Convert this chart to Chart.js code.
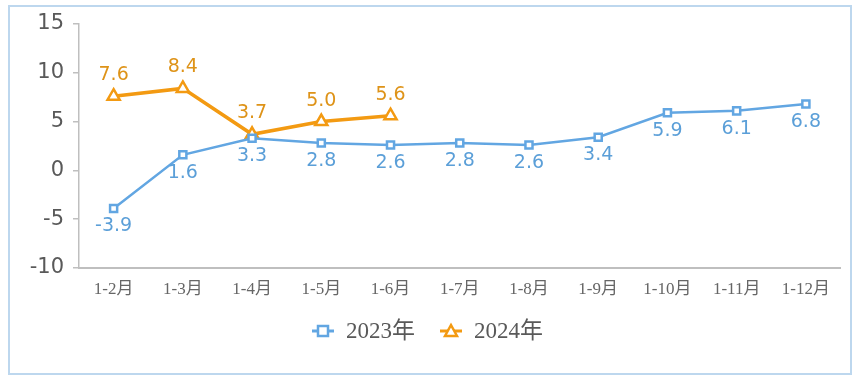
<!DOCTYPE html>
<html>
<head>
<meta charset="utf-8">
<title>2023-2024 累计增速</title>
<script src="https://cdn.jsdelivr.net/npm/chart.js@4.4.1/dist/chart.umd.min.js"></script>
<style>
  body { margin: 0; background: #fff; }
  .frame { position: absolute; left: 8px; top: 5px; width: 840px; height: 366px; border: 2px solid #BDD7EE; }
  canvas { display: block; }
</style>
</head>
<body>
<div class="frame">
  <canvas id="chart" width="840" height="366"></canvas>
</div>
<script>
  const months = ["1-2月", "1-3月", "1-4月", "1-5月", "1-6月", "1-7月", "1-8月", "1-9月", "1-10月", "1-11月", "1-12月"];
  const values2023 = [-3.9, 1.6, 3.3, 2.8, 2.6, 2.8, 2.6, 3.4, 5.9, 6.1, 6.8];
  const values2024 = [7.6, 8.4, 3.7, 5.0, 5.6, null, null, null, null, null, null];
  const yTicks = [-10, -5, 0, 5, 10, 15];

  const blue = "#62A6E2";
  const orange = "#F39A12";
  const blueText = "#5B9FD8";
  const orangeText = "#DE9318";

  // value labels above / below the points
  const valueLabels = {
    id: "valueLabels",
    afterDatasetsDraw(chart) {
      const ctx = chart.ctx;
      ctx.save();
      ctx.font = "19px 'DejaVu Sans'";
      ctx.textAlign = "center";
      ctx.textBaseline = "middle";
      chart.data.datasets.forEach((ds, i) => {
        const meta = chart.getDatasetMeta(i);
        meta.data.forEach((pt, j) => {
          const v = ds.data[j];
          if (v === null) return;
          ctx.fillStyle = ds.labelColor;
          ctx.fillText(v.toFixed(1), pt.x, pt.y + ds.labelOffset);
        });
      });
      ctx.restore();
    }
  };

  // legend: short line with marker, then the series name
  const legendDraw = {
    id: "legendDraw",
    afterDraw(chart) {
      const ctx = chart.ctx;
      const y = 324;
      const items = [
        { x: 313, text: "2023年", color: blue, style: "rect" },
        { x: 441, text: "2024年", color: orange, style: "triangle" }
      ];
      ctx.save();
      items.forEach(it => {
        ctx.strokeStyle = it.color;
        ctx.lineWidth = 3;
        ctx.beginPath();
        ctx.moveTo(it.x - 11, y);
        ctx.lineTo(it.x + 11, y);
        ctx.stroke();
        ctx.fillStyle = "#fff";
        ctx.lineWidth = 2.5;
        ctx.beginPath();
        if (it.style === "rect") {
          ctx.rect(it.x - 5, y - 5, 10, 10);
        } else {
          ctx.moveTo(it.x, y - 6);
          ctx.lineTo(it.x + 6, y + 5);
          ctx.lineTo(it.x - 6, y + 5);
          ctx.closePath();
        }
        ctx.fill();
        ctx.stroke();
        ctx.fillStyle = "#595959";
        ctx.font = "23px 'Liberation Serif', 'Noto Sans CJK SC'";
        ctx.textAlign = "left";
        ctx.textBaseline = "middle";
        ctx.fillText(it.text, it.x + 23, y + 1);
      });
      ctx.restore();
    }
  };

  new Chart(document.getElementById("chart"), {
    type: "line",
    data: {
      labels: months,
      datasets: [
        {
          label: "2023年", data: values2023, borderColor: blue, borderWidth: 2.5,
          pointStyle: "rect", pointRadius: 5, pointBorderWidth: 2.5,
          pointBackgroundColor: "#fff", pointBorderColor: blue,
          labelColor: blueText, labelOffset: 18, tension: 0
        },
        {
          label: "2024年", data: values2024, borderColor: orange, borderWidth: 3.5,
          pointStyle: "triangle", pointRadius: 7, pointBorderWidth: 2.5,
          pointBackgroundColor: "#fff", pointBorderColor: orange,
          labelColor: orangeText, labelOffset: -21, tension: 0, spanGaps: false
        }
      ]
    },
    options: {
      responsive: false,
      animation: false,
      layout: { padding: { left: 0, right: 5, top: 17, bottom: 70 } },
      plugins: { legend: { display: false }, tooltip: { enabled: false } },
      scales: {
        x: {
          offset: true,
          grid: { display: false },
          border: { display: true, color: "#BFBFBF", width: 2 },
          ticks: { color: "#666666", font: { family: "'Liberation Serif', 'Noto Sans CJK SC'", size: 17 }, padding: 3, maxRotation: 0 },
          afterFit: s => { s.height = 35; }
        },
        y: {
          min: yTicks[0], max: yTicks[yTicks.length - 1],
          afterBuildTicks: s => { s.ticks = yTicks.map(v => ({ value: v })); },
          grid: { drawOnChartArea: false, drawTicks: true, tickLength: 6, color: "#BFBFBF", lineWidth: 1.5 },
          border: { display: true, color: "#BFBFBF", width: 1.5 },
          ticks: { color: "#595959", font: { family: "'DejaVu Sans'", size: 21 }, padding: 9 },
          afterFit: s => { s.width = 69; s.paddingTop = 5; s.paddingBottom = 5; }
        }
      }
    },
    plugins: [valueLabels, legendDraw]
  });
</script>
</body>
</html>
